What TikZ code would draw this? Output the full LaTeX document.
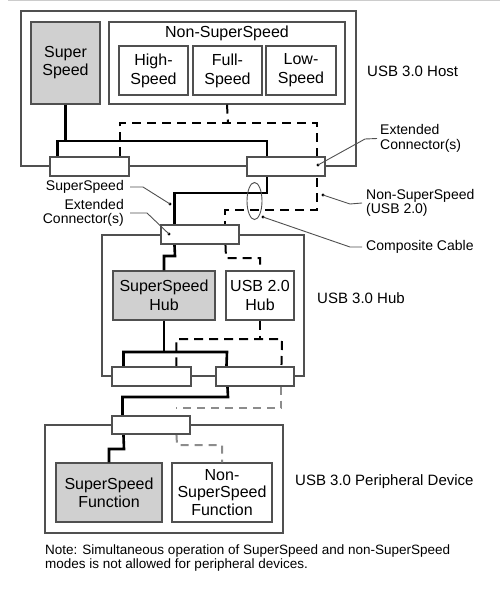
\documentclass[tikz,border=0pt]{standalone}
\usepackage{fontspec}
\setmainfont{Liberation Sans}
\usetikzlibrary{calc,shapes.geometric}
\definecolor{boxgray}{HTML}{D0D0D0}
\definecolor{edge}{HTML}{505050}
\definecolor{dgray}{HTML}{8C8C8C}
\begin{document}
\begin{tikzpicture}[x=1pt,y=-1pt,
  frame/.style={draw=edge, line width=1.1pt, inner sep=0pt},
  box/.style={draw=edge, line width=1.1pt, fill=white, inner sep=0pt, align=center, font=\fontsize{16}{19}\selectfont},
  gbox/.style={box, fill=boxgray},
  conn/.style={draw=edge, line width=1.1pt, fill=white, inner sep=0pt, minimum height=19},
  ssline/.style={line width=2.6pt, black},
  nssline/.style={line width=2pt, black, dash pattern=on 9pt off 6pt},
  gline/.style={line width=2pt, dgray, dash pattern=on 8pt off 6pt},
  lead/.style={draw=edge, line width=0.9pt},
  lbl/.style={font=\fontsize{14}{14.5}\selectfont, inner sep=0pt},
  dev/.style={font=\fontsize{15}{15}\selectfont, inner sep=0pt, anchor=west},
  dotm/.style={circle, fill=black, inner sep=0pt, minimum size=3.4pt}]
\useasboundingbox (0,0) rectangle (500,594);
\draw[black!20, line width=1pt] (8,0.5) -- (500,0.5);

% ---- frames
\node[frame, minimum width=335, minimum height=155] (host) at (188.5,88.5) {};
\node[frame, minimum width=202, minimum height=141] (hub) at (203,305.5) {};
\node[frame, minimum width=238, minimum height=108] (per) at (164,479) {};

% ---- host contents
\node[gbox, minimum width=69, minimum height=82] (ss) at (65.5,63) {Super\\[-1pt]Speed};
\node[box, minimum width=236, minimum height=82] (nss) at (227,63) {};
\node[inner sep=0pt, font=\fontsize{16}{19}\selectfont] (nsst) at (227,33) {Non-SuperSpeed};
\node[box, minimum width=69, minimum height=49] (hs) at (153.5,70.5) {High-\\Speed};
\node[box, minimum width=69, minimum height=49] (fs) at (227.5,70.5) {Full-\\Speed};
\node[box, minimum width=70, minimum height=49] (ls) at (301,70.5) {Low-\\Speed};

% ---- hub contents
\node[gbox, minimum width=102, minimum height=49] (ssh) at (164,295.5) {SuperSpeed\\Hub};
\node[box, minimum width=68, minimum height=49] (u2h) at (260,295.5) {USB 2.0\\Hub};

% ---- peripheral contents
\node[gbox, minimum width=106, minimum height=59, font=\fontsize{16}{18}\selectfont] (ssf) at (109,492.5) {SuperSpeed\\Function};
\node[box, minimum width=100, minimum height=59, font=\fontsize{16}{17.5}\selectfont] (nsf) at (222,492.5) {Non-\\SuperSpeed\\Function};

% ---- connector positions (drawn later on top)
\coordinate (hcLc) at (89.5,166.5);
\coordinate (hcRc) at (286,166.5);
\coordinate (hubUc) at (200,234.5);
\coordinate (hdLc) at (151.5,376.5);
\coordinate (hdRc) at (255,376.5);
\coordinate (pcc) at (151,425);
\node[conn, minimum width=79] (hcL) at (hcLc) {};
\node[conn, minimum width=78] (hcR) at (hcRc) {};
\node[conn, minimum width=78] (hubU) at (hubUc) {};
\node[conn, minimum width=79] (hdL) at (hdLc) {};
\node[conn, minimum width=78] (hdR) at (hdRc) {};
\node[conn, minimum width=78, minimum height=18] (pc) at (pcc) {};

% ---- SuperSpeed (thick) paths
\draw[ssline] (ss.south) -- (65.5,141);
\draw[ssline] ($(hcL.north west)+(8,0)$) |- (267,141) -- (267,193) -| ($(hubU.north west)+(14,0)$);
\draw[ssline] ($(hubU.south west)+(14,0)$) -- (175,256) -| (ssh.north);
\draw[ssline] (ssh.south) -- (164,352);
\draw[ssline] ($(hdL.north west)+(12,0)$) |- (227,352) -- ($(hdR.north west)+(11,0)$);
\draw[ssline] ($(hdR.south west)+(12,0)$) -- (228,397) -| ($(pc.north west)+(11,0)$);
\draw[ssline] ($(pc.south west)+(12,0)$) -- (124,449) -| (ssf.north);

% ---- Non-SuperSpeed (dashed) paths
\draw[nssline] (nss.south) -- (228,123);
\draw[nssline] ($(hcL.north west)+(71,0)$) |- (317,123) -- (317,210) -| ($(hubU.north west)+(65,0)$);
\draw[nssline] ($(hubU.south west)+(65,0)$) -- (226,258) -| (u2h.north);
\draw[nssline] (u2h.south) -- (260,339);
\draw[nssline] ($(hdL.north west)+(65,0)$) |- (282,339) -- ($(hdR.north west)+(66,0)$);
\coordinate (gend) at (176,408);
\draw[gline] ($(hdR.south west)+(66,0)$) |- (gend);
\draw[gline] ($(pc.south west)+(65,0)$) -- (177,445) -| (nsf.north);

% ---- connectors on top
\node[conn, minimum width=79] at (hcLc) {};
\node[conn, minimum width=78] at (hcRc) {};
\node[conn, minimum width=78] at (hubUc) {};
\node[conn, minimum width=79] at (hdLc) {};
\node[conn, minimum width=78] at (hdRc) {};
\node[conn, minimum width=78, minimum height=18] at (pcc) {};

% ---- composite cable ellipse
\node[draw=edge, line width=0.9pt, ellipse, minimum width=15, minimum height=37, inner sep=0pt] (cable) at (254.5,201) {};

% ---- device labels
\node[dev] (lhost) at (367,71) {USB 3.0 Host};
\node[dev] (lhub) at (317,298) {USB 3.0 Hub};
\node[dev] (lper) at (295,482) {USB 3.0 Peripheral Device};

% ---- callouts
\node[dotm] (d1) at (318,165) {};
\node[lbl, anchor=west, align=left] (t1) at (380,138.5) {Extended\\Connector(s)};
\draw[lead] (d1.center) -- (365,139) -- ($(t1.west)+(-3,0)$);

\node[dotm] (d2) at (323,195) {};
\node[lbl, anchor=west, align=left] (t2) at (366,203) {Non-SuperSpeed\\(USB 2.0)};
\draw[lead] (d2.center) -- (350,204) -- ($(t2.west)+(-4,0)$);

\node[dotm] (d3) at (263,217) {};
\node[lbl, anchor=west] (t3) at (366,247) {Composite Cable};
\draw[lead] (d3.center) -- (350,247) -- ($(t3.west)+(-4,0)$);

\node[dotm] (d4) at (170,204) {};
\node[lbl, anchor=east] (t4) at (124,187) {SuperSpeed};
\draw[lead] ($(t4.east)+(6,0)$) -- (143,187) -- (d4.center);

\node[dotm] (d5) at (169,234) {};
\node[lbl, anchor=east, align=right] (t5) at (124,213) {Extended\\Connector(s)};
\draw[lead] ($(t5.east)+(6,0)$) -- (147,213) -- (d5.center);

% ---- note
\node[anchor=north west, align=left, inner sep=0pt, font=\fontsize{13.5}{14}\selectfont] (note) at (45,544.5)
  {Note: Simultaneous operation of SuperSpeed and non-SuperSpeed\\modes is not allowed for peripheral devices.};
\end{tikzpicture}
\end{document}
